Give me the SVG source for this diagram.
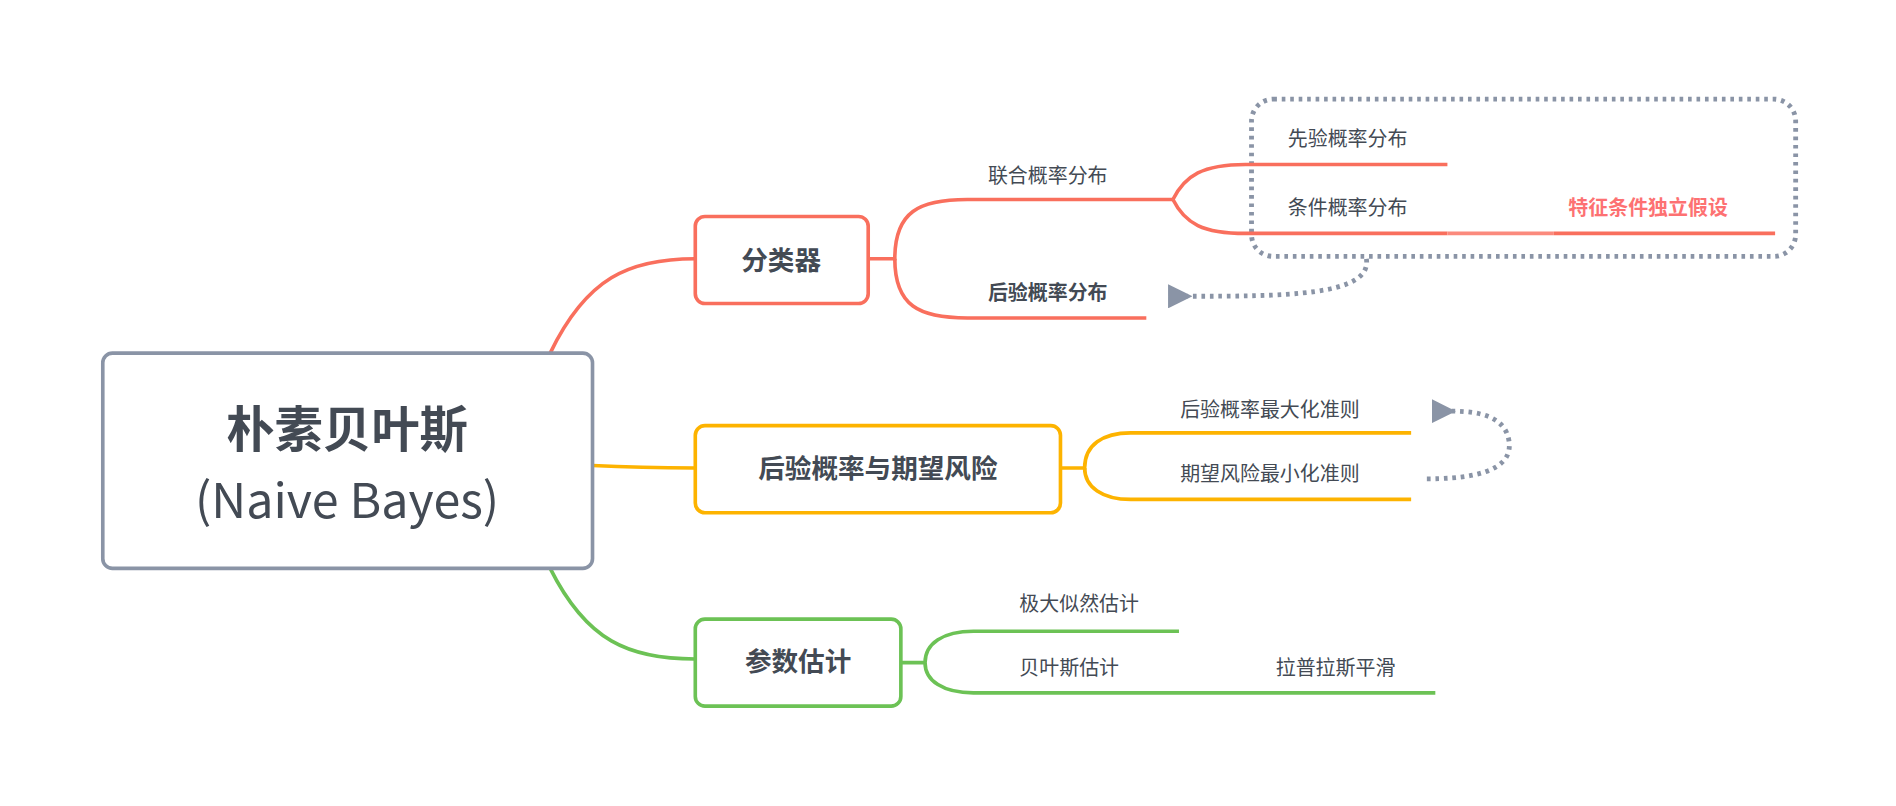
<svg xmlns="http://www.w3.org/2000/svg" width="1896" height="806" viewBox="0 0 1896 806">
<defs>
<style>
text{font-family:"Noto Sans CJK SC","Noto Sans",sans-serif;fill:#434a54}
.node{fill:#fff;stroke-width:3}
.t{font-size:22px;font-weight:bold;text-anchor:middle}
.s{font-size:16.5px}
.ln{fill:none;stroke-width:3}
.dot{fill:none;stroke:#8a94a6;stroke-width:4;stroke-dasharray:3 4}
</style>
<marker id="ah" viewBox="0 0 10 10" refX="2" refY="5" markerWidth="5" markerHeight="5" orient="auto-start-reverse" markerUnits="strokeWidth"><path d="M0,5 L10,0 L10,10 Z" fill="#8a94a6"/></marker>
</defs>
<rect width="1896" height="806" fill="#fff"/>
<g transform="scale(1.2092)">
<g id="connectors">
<path d="M455,292 C485,230 520,214 575,214" class="ln" stroke="#f96f5d" stroke-width="7"/>
<path d="M490,385 C530,387 550,387 575,387" class="ln" stroke="#fdb300" stroke-width="7"/>
<path d="M455,470 C485,530 520,545 575,545" class="ln" stroke="#6cc255" stroke-width="6"/>
<path d="M718,214 H740 C740,175 760,165 800,165 H970" class="ln" stroke="#f96f5d"/>
<path d="M740,214 C740,253 760,263 800,263 H948" class="ln" stroke="#f96f5d"/>
<path d="M877,387 H897 C897,368 912,358 935,358 H1167" class="ln" stroke="#fdb300"/>
<path d="M897,387 C897,403 912,413 935,413 H1167" class="ln" stroke="#fdb300"/>
<path d="M745,548 H765 C765,532 780,522 805,522 H975" class="ln" stroke="#6cc255"/>
<path d="M765,548 C765,563 780,573 805,573 H1187" class="ln" stroke="#6cc255"/>
<rect x="1035" y="82" width="450" height="130" rx="18" fill="#fbfcfe" class="dot" stroke-dasharray="3 4"/>
<path d="M970,165 C980,145 995,136 1030,136 H1197" class="ln" stroke="#f96f5d"/>
<path d="M970,165 C980,185 995,193 1030,193 H1197" class="ln" stroke="#f96f5d"/>
<path d="M1197,193 H1285" class="ln" stroke="#fb8a7d"/>
<path d="M1285,193 H1468" class="ln" stroke="#f96f5d"/>
<path d="M1130,214 C1135,245 1060,245 982,245" class="dot" marker-end="url(#ah)"/>
<path d="M1180,396 C1240,396 1250,380 1248,365 C1245,345 1225,340 1200,340" class="dot" marker-end="url(#ah)"/>
</g>
<g id="root"><rect x="85" y="292" width="405" height="178" rx="8" class="node" stroke="#8a94a6" stroke-width="4"/>
<text x="287" y="370" class="t" font-size="40" style="font-size:40px">朴素贝叶斯</text>
<text x="287" y="428" font-size="40" text-anchor="middle">(Naive Bayes)</text></g>
<g id="n1"><rect x="575" y="179" width="143" height="72" rx="8" class="node" stroke="#f96f5d"/><text x="646" y="223" class="t">分类器</text></g>
<g id="n2"><rect x="575" y="352" width="302" height="72" rx="8" class="node" stroke="#fdb300"/><text x="726" y="395" class="t">后验概率与期望风险</text></g>
<g id="n3"><rect x="575" y="512" width="170" height="72" rx="8" class="node" stroke="#6cc255"/><text x="660" y="555" class="t">参数估计</text></g>
<g id="leaves">
<text x="817" y="151" class="s">联合概率分布</text>
<text x="817" y="248" class="s" font-weight="bold">后验概率分布</text>
<text x="1065" y="121" class="s">先验概率分布</text>
<text x="1065" y="178" class="s">条件概率分布</text>
<text x="1297" y="178" class="s" font-weight="bold" style="fill:#fd7172">特征条件独立假设</text>
<text x="976" y="345" class="s">后验概率最大化准则</text>
<text x="976" y="398" class="s">期望风险最小化准则</text>
<text x="843" y="505" class="s">极大似然估计</text>
<text x="843" y="558" class="s">贝叶斯估计</text>
<text x="1055" y="558" class="s">拉普拉斯平滑</text>
</g>
</g>
</svg>
